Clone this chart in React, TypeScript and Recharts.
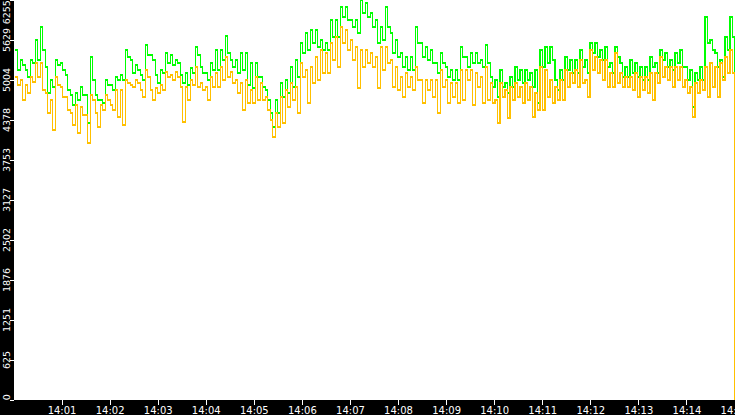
import React from 'react';
import { LineChart, Line, XAxis, YAxis, CartesianGrid } from 'recharts';

// Sample timing (seconds after 14:00:00)
const SAMPLE_START_S = 1.5;
const SAMPLE_STEP_S = 3.12;
const LAST_SAMPLE_S = 899.5;

// Upper (green) series values
const ASK = [
  5473, 5160, 5317, 5239, 5160, 5051, 5317, 5270, 5630, 5317, 5833, 5473, 5207, 4801, 5004, 4895, 5317, 5239, 5270, 5160,
  5082, 4848, 4769, 4613, 4801, 4691, 4895, 4769, 4769, 4332, 5364, 5004, 4769, 4691, 4691, 4644, 5004, 4926, 4926, 4848,
  5051, 5004, 5082, 5004, 5473, 5364, 5317, 5114, 5239, 5160, 5082, 5004, 5551, 5395, 5395, 5317, 5082, 4957, 5160, 5114,
  5426, 5270, 5395, 5239, 5317, 5270, 5082, 4957, 5114, 4926, 5192, 5114, 5520, 5395, 5207, 5114, 5114, 5004, 5270, 5160,
  5473, 5160, 5473, 5317, 5692, 5426, 5317, 5207, 5317, 5114, 5426, 5160, 5426, 4926, 5270, 4879, 5270, 5051, 5051, 4895,
  4848, 4691, 4488, 4269, 4691, 4488, 4957, 4738, 5004, 4801, 5207, 4895, 5317, 5051, 5583, 5426, 5739, 5473, 5786, 5583,
  5786, 5520, 5630, 5473, 5583, 5473, 5942, 5676, 5942, 5676, 6146, 5989, 6146, 5942, 5942, 5833, 5942, 5739, 6250, 6052,
  6208, 5989, 6052, 5833, 5942, 5583, 5833, 5630, 6146, 5833, 5739, 5426, 5630, 5364, 5426, 5207, 5364, 5160, 5364, 5160,
  5833, 5583, 5583, 5364, 5520, 5317, 5473, 5270, 5270, 5114, 5426, 5270, 5207, 5051, 5160, 5004, 5160, 5004, 5520, 5364,
  5364, 5207, 5426, 5270, 5426, 5270, 5317, 5207, 5551, 5270, 5051, 4895, 5004, 4738, 5160, 4895, 4957, 4801, 5051, 4895,
  5207, 5004, 5160, 4957, 5160, 5004, 5114, 4895, 5160, 4644, 5473, 5207, 5520, 5270, 5520, 5317, 5004, 4848, 5160, 5004,
  5364, 5160, 5317, 5114, 5317, 5114, 5473, 5207, 5317, 5114, 5583, 5426, 5583, 5364, 5473, 5317, 5520, 5207, 5270, 5114,
  5520, 5364, 5270, 5051, 5207, 5051, 5317, 5114, 5270, 5051, 5207, 5004, 5207, 5004, 5364, 5207, 5270, 5114, 5473, 5317,
  5426, 5207, 5317, 5160, 5426, 5270, 5473, 5207, 5207, 5004, 5160, 4582, 5114, 5004, 5207, 5004, 5989, 5583, 5630, 5473,
  5426, 5207, 5317, 5051, 5676, 5473, 5989, 5676,
  2706,
];

// Lower (orange) series values
const BID = [
  5051, 4926, 5004, 4691, 4926, 4801, 5051, 4973, 5270, 5051, 5270, 4848, 4801, 4488, 4691, 4222, 5051, 4926, 4895, 4738,
  4738, 4535, 4488, 4300, 4613, 4175, 4582, 4457, 4457, 4019, 4769, 4691, 4488, 4269, 4613, 4535, 4769, 4691, 4613, 4535,
  4848, 4425, 4848, 4300, 5004, 4957, 4926, 4895, 5004, 4957, 4848, 4738, 5160, 5051, 4848, 4691, 4879, 4801, 4926, 4848,
  5129, 5051, 5082, 5004, 5129, 5051, 4895, 4347, 4895, 4691, 5004, 4926, 5207, 4895, 4957, 4848, 4895, 4691, 5051, 4895,
  5114, 4895, 5207, 5004, 5364, 5051, 5129, 4957, 5004, 4801, 4957, 4535, 5004, 4644, 4848, 4644, 5051, 4691, 4957, 4691,
  4738, 4535, 4378, 4113, 4488, 4269, 4738, 4332, 4848, 4582, 4957, 4691, 4895, 4488, 5270, 5051, 5160, 4644, 5207, 4957,
  5364, 5004, 5473, 5114, 5426, 5114, 5583, 5317, 5676, 5207, 5833, 5583, 5786, 5473, 5630, 5317, 5520, 4879, 5473, 5207,
  5473, 5270, 5426, 5207, 5364, 4879, 5520, 5160, 5520, 5270, 5317, 4895, 5207, 4848, 5051, 4738, 5114, 4895, 5051, 4848,
  5207, 5004, 5004, 4644, 5004, 4848, 5004, 4738, 5004, 4488, 5160, 4895, 5004, 4644, 4957, 4738, 4957, 4644, 5160, 4691,
  5160, 5004, 5160, 4613, 5114, 4895, 5051, 4644, 5207, 4691, 4957, 4644, 4691, 4332, 4957, 4738, 4848, 4410, 4895, 4691,
  4957, 4738, 4895, 4644, 4957, 4691, 4895, 4425, 4801, 4535, 5207, 4535, 5160, 4738, 5004, 4644, 4895, 4691, 5004, 4691,
  5160, 4895, 5114, 4957, 5160, 4895, 5317, 4957, 5004, 4738, 5473, 5160, 5364, 5114, 5317, 5004, 5317, 4895, 5114, 4895,
  5426, 4957, 5114, 4895, 5051, 4895, 5051, 4848, 5114, 4738, 5051, 4848, 5051, 4801, 5114, 4691, 5114, 4957, 5364, 5051,
  5207, 5004, 5207, 4895, 5207, 5004, 5207, 4895, 5004, 4801, 4895, 4425, 4957, 4801, 5004, 4848, 5207, 4738, 5270, 4895,
  5207, 4738, 5270, 5004, 5364, 5114, 5473, 5114,
  0,
];

const X_TICKS = [60, 120, 180, 240, 300, 360, 420, 480, 540, 600, 660, 720, 780, 840, 900];
const X_TICK_LABELS = ['14:01', '14:02', '14:03', '14:04', '14:05', '14:06', '14:07', '14:08', '14:09', '14:10', '14:11', '14:12', '14:13', '14:14', '14:15'];
const Y_TICKS = [0, 625.5, 1251, 1876.5, 2502, 3127.5, 3753, 4378.5, 5004, 5629.5, 6255];
const Y_TICK_LABELS = ['0', '625', '1251', '1876', '2502', '3127', '3753', '4378', '5004', '5629', '6255'];

const data = ASK.map((a, i) => ({
  t: i === ASK.length - 1 ? LAST_SAMPLE_S : SAMPLE_START_S + i * SAMPLE_STEP_S,
  ask: a,
  bid: BID[i],
}));

const W = 735;
const H = 415;
const Y_AXIS_W = 14;
const X_AXIS_H = 15;
const PLOT_BOTTOM = H - X_AXIS_H;
const FONT = '"DejaVu Sans", Verdana, sans-serif';

const XTick = (props: any) => {
  const { x, payload } = props;
  const idx = X_TICKS.indexOf(payload.value);
  const label = idx >= 0 ? X_TICK_LABELS[idx] : String(payload.value);
  return (
    <g>
      <line x1={x} x2={x} y1={PLOT_BOTTOM} y2={PLOT_BOTTOM + 5} stroke="#fff" strokeWidth={1} />
      <text x={x} y={H - 1} textAnchor="middle" fill="#fff" fontSize={10} fontFamily={FONT}>
        {label}
      </text>
    </g>
  );
};

const YTick = (props: any) => {
  const { y, payload } = props;
  const idx = Y_TICKS.indexOf(payload.value);
  const label = idx >= 0 ? Y_TICK_LABELS[idx] : String(Math.floor(payload.value));
  const half = label.length * 2.8;
  const cy = Math.min(Math.max(y, half + 1), PLOT_BOTTOM - half);
  return (
    <g>
      <line x1={10} x2={Y_AXIS_W} y1={y} y2={y} stroke="#fff" strokeWidth={1} />
      <text
        transform={`translate(9.5, ${cy}) rotate(-90)`}
        textAnchor="middle"
        fill="#fff"
        fontSize={9.5}
        fontFamily={FONT}
      >
        {label}
      </text>
    </g>
  );
};

export default function App() {
  return (
    <div style={{ position: 'fixed', left: 0, top: 0, width: W, height: H, background: '#000' }}>
      <LineChart
        width={W}
        height={H}
        data={data}
        margin={{ top: 0, right: 0, bottom: 0, left: 0 }}
        style={{ shapeRendering: 'crispEdges' }}
      >
        <CartesianGrid horizontal={false} vertical={false} fill="#ffffff" />
        <XAxis
          dataKey="t"
          type="number"
          domain={[0, 900]}
          ticks={X_TICKS}
          interval={0}
          height={X_AXIS_H}
          tick={<XTick />}
          tickLine={false}
          axisLine={false}
          allowDataOverflow
        />
        <YAxis
          type="number"
          domain={[0, 6255]}
          ticks={Y_TICKS}
          interval={0}
          width={Y_AXIS_W}
          tick={<YTick />}
          tickLine={false}
          axisLine={false}
          allowDataOverflow
        />
        <Line
          dataKey="ask"
          type="stepAfter"
          stroke="#00ff00"
          strokeWidth={1.2}
          dot={false}
          activeDot={false}
          isAnimationActive={false}
        />
        <Line
          dataKey="bid"
          type="stepAfter"
          stroke="#ffc000"
          strokeWidth={1.2}
          dot={false}
          activeDot={false}
          isAnimationActive={false}
        />
      </LineChart>
    </div>
  );
}
